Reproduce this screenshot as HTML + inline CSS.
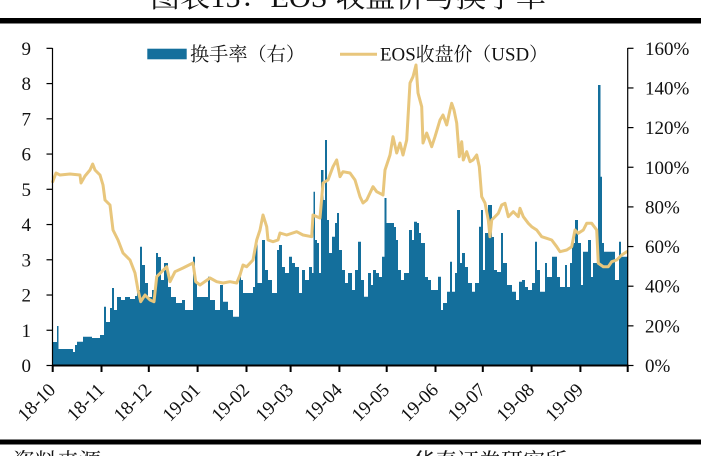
<!DOCTYPE html>
<html>
<head>
<meta charset="utf-8">
<style>
  html, body { margin:0; padding:0; background:#fff; }
  body { width:701px; height:456px; overflow:hidden; }
  svg { display:block; }
  text { font-family: "Liberation Serif", "Noto Serif CJK SC", serif; fill:#111; }
</style>
</head>
<body>
<svg width="701" height="456" viewBox="0 0 701 456" xmlns="http://www.w3.org/2000/svg">
  <!-- Title (cut off) -->
  <text x="150" y="7" font-size="29" textLength="396" lengthAdjust="spacingAndGlyphs">图表15：EOS 收盘价与换手率</text>
  <rect x="0" y="18" width="701" height="5.5" fill="#000"/>

  <!-- Bars (turnover, right axis) -->
  <path fill="#146f9c" d="M52.7,365.5 V342 H57 V326 H58.5 V349 H73 V352 H75 V345 H77 V341.7 H83 V336.7 H92 V338 H100 V335 H104 V306.7 H106 V322 H110 V308 H112 V288 H114 V310 H117 V297 H121 V300 H125 V297 H130 V299 H135 V296 H137 V290 H140 V246.7 H142 V265 H145 V283 H148 V297 H152 V290 H156 V253 H158 V257 H161 V280 H164 V263 H168 V287 H171 V297 H176 V303 H182 V300 H185 V310 H193 V256.7 H195 V283 H197 V297 H208 V276.7 H210 V300 H215 V310 H220 V285 H223 V301.7 H228 V310 H233 V316.7 H239 V276.7 H241 V280 H243 V293 H253 V287 H255 V243 H257.5 V283 H262 V240 H265 V270 H268 V280 H272 V293 H277 V250 H279 V245 H282 V267 H285 V273 H289 V256.7 H292 V263 H295 V267 H299 V293 H302 V270 H305 V280 H309 V267 H312 V273 H313.5 V191.7 H315 V240 H317 V243 H319 V273 H321 V170 H323.5 V200 H325 V140 H327 V220 H329 V253 H332 V236.7 H335 V223 H337 V213 H339 V250 H342 V270 H345 V283 H348 V273 H352 V290 H355 V270 H358 V241.7 H361 V280 H364 V296.7 H368 V273 H371 V285 H373 V270 H376 V273 H379 V277 H382 V256.7 H384.5 V198 H386.5 V223 H394 V227 H396 V240 H398 V270 H401 V280 H404 V273 H409 V230 H412 V240 H414 V221.7 H417 V223 H419 V233 H421 V243 H425 V277 H428 V280 H431 V290 H438 V276.7 H441 V310 H443 V303 H447 V291.7 H450 V261.7 H452 V291.7 H455 V273 H457 V210 H460 V263 H462 V253 H465 V267 H468 V283 H472 V291.7 H475 V283 H479 V226.7 H481 V210 H483 V270 H485 V233 H488 V205 H492 V237 H494 V270 H497 V272 H501 V233 H503 V263 H507 V285 H512 V291.7 H516 V300 H519 V281.7 H522 V280 H525 V287 H528 V290 H532 V283 H535 V241.7 H537 V270 H540 V291.7 H545 V263 H547 V277 H552 V256.7 H557 V277 H560 V287 H565 V265 H567 V287 H570 V263 H572 V243 H575 V220 H578 V243 H581 V285 H583 V251.7 H588 V240 H591 V277 H593 V263 H598 V85 H600.5 V176.7 H602 V243 H604 V251.7 H615 V280 H619 V241.7 H621 V256.7 H627.7 V365.5 Z"/>

  <!-- Price line (left axis) -->
  <polyline fill="none" stroke="#e8c67c" stroke-width="3" stroke-linejoin="round" stroke-linecap="round" points="52.7,181.7 56,173 60,175 70,174 80,175 81,183 85,176 90,170 92.7,164 95,170 100,175 103,185 105,200 110,205 113,230 118,240 123,253 130,260 135,273 138,290 140.7,301.7 145,295 150,300 154,301.7 156.7,276.7 161.7,271.7 166.7,266.7 170,281.7 175,271.7 183,268 193,263 195.7,281.7 200,285 210,278 216.7,281.7 223,283 230,281.7 236.7,283 240,275 243,265 246.7,266.7 253,260 256.7,240 260,230 263,215 266.7,226.7 268,240 273,241.7 278,240 280,233 286.7,235 296.7,231.7 303,235 311.7,236.7 313,215 320,218 323,183 328,180 333,166.7 336.7,160 340,176.7 343,171.7 350,173 355,180 360,196.7 363,203 366.7,200 370,193 373,186.7 376.7,191.7 383,195 385,170 390,155 393,136.7 396.7,153 400,143 403,155 406.7,140 410,83 413,76.7 416,65 418,93 421.7,106.7 423,143 426.7,133 431.7,146.7 435,136.7 440,120 443,115 446.7,125 450,110 451.7,103.3 454,110 456.7,123 459.3,156.7 461.7,141.7 463.3,160 466.7,151.7 470,161.7 473,160 476.7,155 479.3,166.7 481.7,196.7 485,203 488.3,220 490,236.7 491.7,220 495,216.7 498.3,213.3 501.7,205 505,203.3 508.3,216.7 513.3,211.7 518.3,216.7 520,208.3 523.3,216.7 528.3,223.3 531.7,226.7 536.7,230 541.7,236.7 546.7,238.3 551.7,240 556.7,246.7 560,251.7 566.7,250 571.7,246.7 575,230 578.3,233.3 583.3,230 586.7,223.3 591.7,223.3 596.7,230 598.3,263.3 603.3,266.7 608.3,266.7 611.7,261.7 616.7,260 621.7,255 626.7,251.7"/>

  <!-- Left axis -->
  <g stroke="#000" stroke-width="1.2">
    <line x1="52.5" y1="48" x2="52.5" y2="366"/>
    <line x1="46.5" y1="365.5" x2="52.5" y2="365.5"/>
    <line x1="46.5" y1="330.26" x2="52.5" y2="330.26"/>
    <line x1="46.5" y1="295.02" x2="52.5" y2="295.02"/>
    <line x1="46.5" y1="259.78" x2="52.5" y2="259.78"/>
    <line x1="46.5" y1="224.54" x2="52.5" y2="224.54"/>
    <line x1="46.5" y1="189.3" x2="52.5" y2="189.3"/>
    <line x1="46.5" y1="154.06" x2="52.5" y2="154.06"/>
    <line x1="46.5" y1="118.82" x2="52.5" y2="118.82"/>
    <line x1="46.5" y1="83.58" x2="52.5" y2="83.58"/>
    <line x1="46.5" y1="48.34" x2="52.5" y2="48.34"/>
  </g>
  <g font-size="19" text-anchor="end">
    <text x="31" y="372">0</text>
    <text x="31" y="336.8">1</text>
    <text x="31" y="301.5">2</text>
    <text x="31" y="266.3">3</text>
    <text x="31" y="231">4</text>
    <text x="31" y="195.8">5</text>
    <text x="31" y="160.6">6</text>
    <text x="31" y="125.3">7</text>
    <text x="31" y="90.1">8</text>
    <text x="31" y="54.8">9</text>
  </g>

  <!-- Right axis -->
  <g stroke="#000" stroke-width="1.2">
    <line x1="627.7" y1="48" x2="627.7" y2="366"/>
    <line x1="627.7" y1="365.5" x2="633.5" y2="365.5"/>
    <line x1="627.7" y1="325.85" x2="633.5" y2="325.85"/>
    <line x1="627.7" y1="286.2" x2="633.5" y2="286.2"/>
    <line x1="627.7" y1="246.55" x2="633.5" y2="246.55"/>
    <line x1="627.7" y1="206.9" x2="633.5" y2="206.9"/>
    <line x1="627.7" y1="167.25" x2="633.5" y2="167.25"/>
    <line x1="627.7" y1="127.6" x2="633.5" y2="127.6"/>
    <line x1="627.7" y1="87.95" x2="633.5" y2="87.95"/>
    <line x1="627.7" y1="48.3" x2="633.5" y2="48.3"/>
  </g>
  <g font-size="19">
    <text x="645" y="372">0%</text>
    <text x="645" y="332.4">20%</text>
    <text x="645" y="292.7">40%</text>
    <text x="645" y="253.1">60%</text>
    <text x="645" y="213.4">80%</text>
    <text x="645" y="173.8">100%</text>
    <text x="645" y="134.1">120%</text>
    <text x="645" y="94.5">140%</text>
    <text x="645" y="54.8">160%</text>
  </g>

  <!-- X axis -->
  <g stroke="#000" stroke-width="2">
    <line x1="52" y1="365.5" x2="628.5" y2="365.5"/>
    <line x1="52.7" y1="365" x2="52.7" y2="372"/>
    <line x1="101.5" y1="365" x2="101.5" y2="372"/>
    <line x1="148.8" y1="365" x2="148.8" y2="372"/>
    <line x1="197.6" y1="365" x2="197.6" y2="372"/>
    <line x1="246.5" y1="365" x2="246.5" y2="372"/>
    <line x1="290.6" y1="365" x2="290.6" y2="372"/>
    <line x1="339.4" y1="365" x2="339.4" y2="372"/>
    <line x1="386.7" y1="365" x2="386.7" y2="372"/>
    <line x1="435.5" y1="365" x2="435.5" y2="372"/>
    <line x1="482.8" y1="365" x2="482.8" y2="372"/>
    <line x1="531.6" y1="365" x2="531.6" y2="372"/>
    <line x1="580.4" y1="365" x2="580.4" y2="372"/>
    <line x1="627.7" y1="365" x2="627.7" y2="372"/>
  </g>
  <g font-size="19" text-anchor="end">
    <text transform="translate(56.5,391) rotate(-45)">18-10</text>
    <text transform="translate(105.3,391) rotate(-45)">18-11</text>
    <text transform="translate(152.6,391) rotate(-45)">18-12</text>
    <text transform="translate(201.4,391) rotate(-45)">19-01</text>
    <text transform="translate(250.3,391) rotate(-45)">19-02</text>
    <text transform="translate(294.4,391) rotate(-45)">19-03</text>
    <text transform="translate(343.2,391) rotate(-45)">19-04</text>
    <text transform="translate(390.5,391) rotate(-45)">19-05</text>
    <text transform="translate(439.3,391) rotate(-45)">19-06</text>
    <text transform="translate(486.6,391) rotate(-45)">19-07</text>
    <text transform="translate(535.4,391) rotate(-45)">19-08</text>
    <text transform="translate(584.2,391) rotate(-45)">19-09</text>
  </g>

  <!-- Legend -->
  <rect x="147.3" y="48.7" width="39.4" height="10.6" fill="#146f9c"/>
  <text x="190" y="60.5" font-size="19" textLength="115" lengthAdjust="spacingAndGlyphs">换手率（右）</text>
  <line x1="340" y1="54.3" x2="377" y2="54.3" stroke="#e8c67c" stroke-width="3"/>
  <text x="380" y="60.5" font-size="19" textLength="168" lengthAdjust="spacingAndGlyphs">EOS收盘价（USD）</text>

  <!-- Bottom bar and source (cut off) -->
  <rect x="0" y="439.5" width="701" height="5" fill="#000"/>
  <text x="13" y="469" font-size="22">资料来源：</text>
  <text x="413" y="469" font-size="22">华泰证券研究所</text>
</svg>
</body>
</html>
